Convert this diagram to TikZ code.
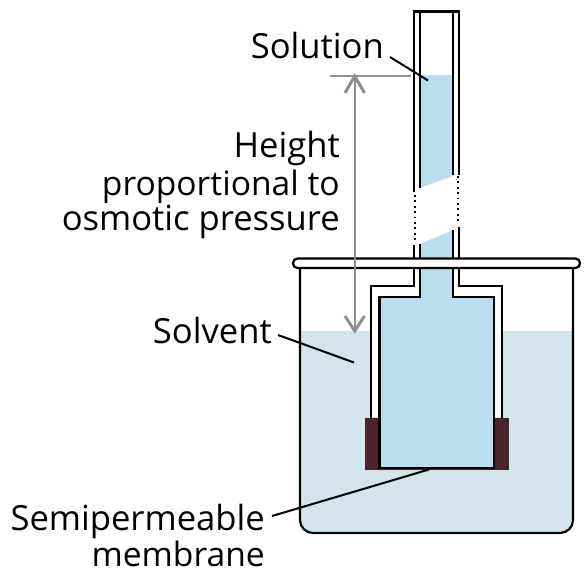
\documentclass[tikz,border=0pt]{standalone}
\usepackage{fontspec}
\setmainfont{Open Sans}
\definecolor{soln}{HTML}{BBDDF0}
\definecolor{solv}{HTML}{D2E4EC}
\definecolor{memb}{HTML}{4A252C}
\definecolor{dim}{HTML}{8C8E90}
\tikzset{
  glass/.style={draw=black,line width=2.2pt},
  leader/.style={draw=black,line width=2pt},
  dimline/.style={draw=dim,line width=2pt},
  dimtip/.style={draw=dim,line width=3pt},
  lab/.style={font=\fontsize{34.6}{38}\selectfont,inner sep=0pt,text=black},
  labsmall/.style={font=\fontsize{33.6}{38}\selectfont,inner sep=0pt,text=black},
  dots/.style={draw=black,line width=2pt,dash pattern=on 1.8pt off 3.6pt}
}
\begin{document}
\begin{tikzpicture}[x=1pt,y=-1pt]
\useasboundingbox (0,0) rectangle (588,582);
% solvent
\fill[solv] (301,331) -- (572,331) -- (572,520) arc[start angle=0,end angle=90,radius=13] -- (314,533) arc[start angle=90,end angle=180,radius=13] -- cycle;
% beaker
\draw[glass] (300,268) -- (300,520) arc[start angle=180,end angle=90,radius=13] -- (560,533) arc[start angle=90,end angle=0,radius=13] -- (573,268);
% thistle tube: gap inside the double wall
\fill[white] (371,417) -- (371,286) -- (414,286) -- (414,268) -- (459,268) -- (459,286) -- (502,286) -- (502,417) -- cycle;
% solution
\fill[soln] (420,75) -- (453,75) -- (453,176) -- (420,188) -- cycle;
\fill[soln] (420,244) -- (453,230) -- (453,297) -- (494,297) -- (494,468) -- (379,468) -- (379,297) -- (420,297) -- cycle;
% membrane
\fill[memb] (365,417.5) rectangle (509,470);
\fill[soln] (379,418) rectangle (494,468);
% tube walls
\draw[glass] (414,192) -- (414,11.5) -- (459,11.5) -- (459,175);
\draw[glass] (420,11.5) -- (420,188);
\draw[glass] (453,11.5) -- (453,175);
\draw[dots] (414.7,195) -- (414.7,241);
\draw[dots] (458.3,176) -- (458.3,224);
\draw[glass] (414,245) -- (414,259);
\draw[glass] (420,244) -- (420,259);
\draw[glass] (453,230) -- (453,259);
\draw[glass] (459,227) -- (459,259);
% bulb walls
\draw[glass] (414,268) -- (414,286) -- (371,286) -- (371,418);
\draw[glass] (459,268) -- (459,286) -- (502,286) -- (502,418);
\draw[draw=black,line width=2.8pt] (420,268) -- (420,297) -- (379.5,297) -- (379.5,468) -- (494,468) -- (494,297) -- (453,297) -- (453,268);
% rim
\draw[glass,fill=white,rounded corners=4.5pt] (293,258.5) rectangle (580,268);
% labels
\node[lab,anchor=base east] (solution) at (384,58) {Solution};
\node[lab,anchor=base east] (h1) at (340,157) {Height};
\node[labsmall,anchor=base east] (h2) at (340,195) {proportional to};
\node[lab,anchor=base east] (h3) at (340,230) {osmotic pressure};
\node[lab,anchor=base east] (solvent) at (272,343) {Solvent};
\node[lab,anchor=base east] (semi) at (265,530) {Semipermeable};
\node[labsmall,anchor=base east] (mem) at (265,566) {membrane};
% leaders
\coordinate (solutionStart) at (390,57);
\coordinate (solutionEnd) at (428,80.5);
\coordinate (solventStart) at (278,335);
\coordinate (solventEnd) at (354,362.5);
\coordinate (memStart) at (272,516);
\coordinate (memEnd) at (429,469.5);
\draw[leader] (solutionStart) -- (solutionEnd);
\draw[leader] (solventStart) -- (solventEnd);
\draw[leader] (memStart) -- (memEnd);
% dimension
\coordinate (dimL) at (330,76);
\coordinate (dimR) at (411,76);
\coordinate (dimTop) at (354.7,76);
\coordinate (dimBot) at (354.7,331);
\draw[dimline] (dimL) -- (dimR);
\draw[dimline] (dimTop) -- (dimBot);
\draw[dimtip] (345,93) -- (dimTop) -- (364.5,93);
\draw[dimtip] (345,316) -- (dimBot) -- (364.5,316);
\end{tikzpicture}
\end{document}
